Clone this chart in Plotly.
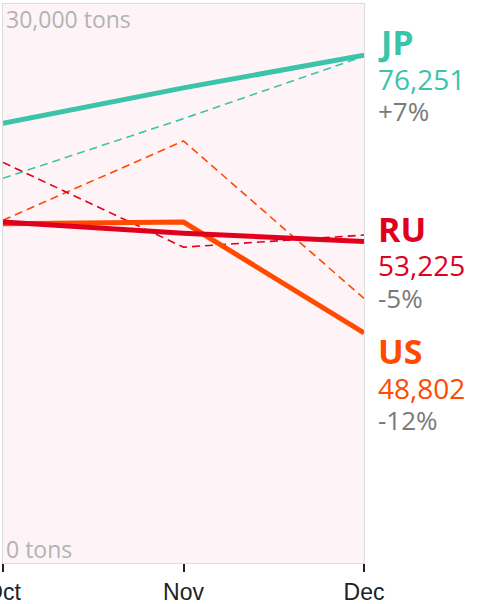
import plotly.graph_objects as go

# chart data
months = ["Oct", "Nov", "Dec"]
countries = ["JP", "RU", "US"]

jp_this = [23600, 25500, 27250]
jp_prev = [20650, 23850, 27200]
ru_this = [18300, 17700, 17250]
ru_prev = [21500, 16950, 17600]
us_this = [18200, 18300, 12350]
us_prev = [18400, 22650, 14200]

totals = ["76,251", "53,225", "48,802"]
changes = ["+7%", "-5%", "-12%"]

y_top_label = "30,000 tons"
y_bottom_label = "0 tons"

colors = {"JP": "#3cc4aa", "RU": "#e0001e", "US": "#ff4a00"}

W, H = 482, 604
M_L, M_R, M_T, M_B = 3, 118, 4, 41
plot_h = H - M_T - M_B


def py(pix):
    # pixel row -> paper fraction inside plot area
    return (H - M_B - pix) / plot_h


fig = go.Figure()

prev = {"JP": jp_prev, "RU": ru_prev, "US": us_prev}
this = {"JP": jp_this, "RU": ru_this, "US": us_this}

for c in ["JP", "US", "RU"]:
    fig.add_trace(go.Scatter(x=months, y=prev[c], mode="lines",
                             line=dict(color=colors[c], width=1.6, dash="8px,5px"),
                             hoverinfo="skip", showlegend=False))
for c in ["JP", "US", "RU"]:
    fig.add_trace(go.Scatter(x=months, y=this[c], mode="lines",
                             line=dict(color=colors[c], width=5),
                             hoverinfo="skip", showlegend=False))

# right-hand labels
label_rows = {"JP": (42, 79, 111), "RU": (229, 265, 298), "US": (351, 388, 420)}
for c, tot, chg in zip(countries, totals, changes):
    r1, r2, r3 = label_rows[c]
    common = dict(xref="paper", yref="paper", x=1.0, xshift=12, xanchor="left",
                  yanchor="middle", showarrow=False)
    fig.add_annotation(text="<b>" + c + "</b>", y=py(r1),
                       font=dict(family="Open Sans", size=34, color=colors[c]), **common)
    fig.add_annotation(text=tot, y=py(r2),
                       font=dict(family="Open Sans", size=28, color=colors[c]), **common)
    fig.add_annotation(text=chg, y=py(r3),
                       font=dict(family="Open Sans", size=26, color="#7a7a7a"), **common)

# y-axis end labels inside the plot
fig.add_annotation(text=y_top_label, xref="paper", yref="paper", x=0, y=py(19),
                   xshift=1, xanchor="left", yanchor="middle", showarrow=False,
                   font=dict(family="Open Sans", size=23, color="#b3b3b3"))
fig.add_annotation(text=y_bottom_label, xref="paper", yref="paper", x=0, y=py(549),
                   xshift=1, xanchor="left", yanchor="middle", showarrow=False,
                   font=dict(family="Open Sans", size=23, color="#b3b3b3"))

fig.update_layout(
    width=W, height=H,
    margin=dict(l=M_L, r=M_R, t=M_T, b=M_B, pad=0),
    paper_bgcolor="white",
    plot_bgcolor="#fef4f7",
    showlegend=False,
)
fig.update_xaxes(
    type="category", range=[0, 2], showgrid=False, zeroline=False, automargin=False,
    showline=True, mirror=True, linecolor="#dddddd", linewidth=1,
    ticks="outside", ticklen=8, tickwidth=1.5, tickcolor="#222222",
    tickfont=dict(family="Liberation Sans", size=23, color="#222222"),
)
fig.update_yaxes(
    range=[0, 30000], showgrid=False, zeroline=False, showticklabels=False,
    automargin=False,
    showline=True, mirror=True, linecolor="#dddddd", linewidth=1,
)

# the page body has a default 8px margin; drop it so the figure sits at 0,0
fig.write_html("out.html", config={"displayModeBar": False},
               post_script="document.body.style.margin='0px';")
